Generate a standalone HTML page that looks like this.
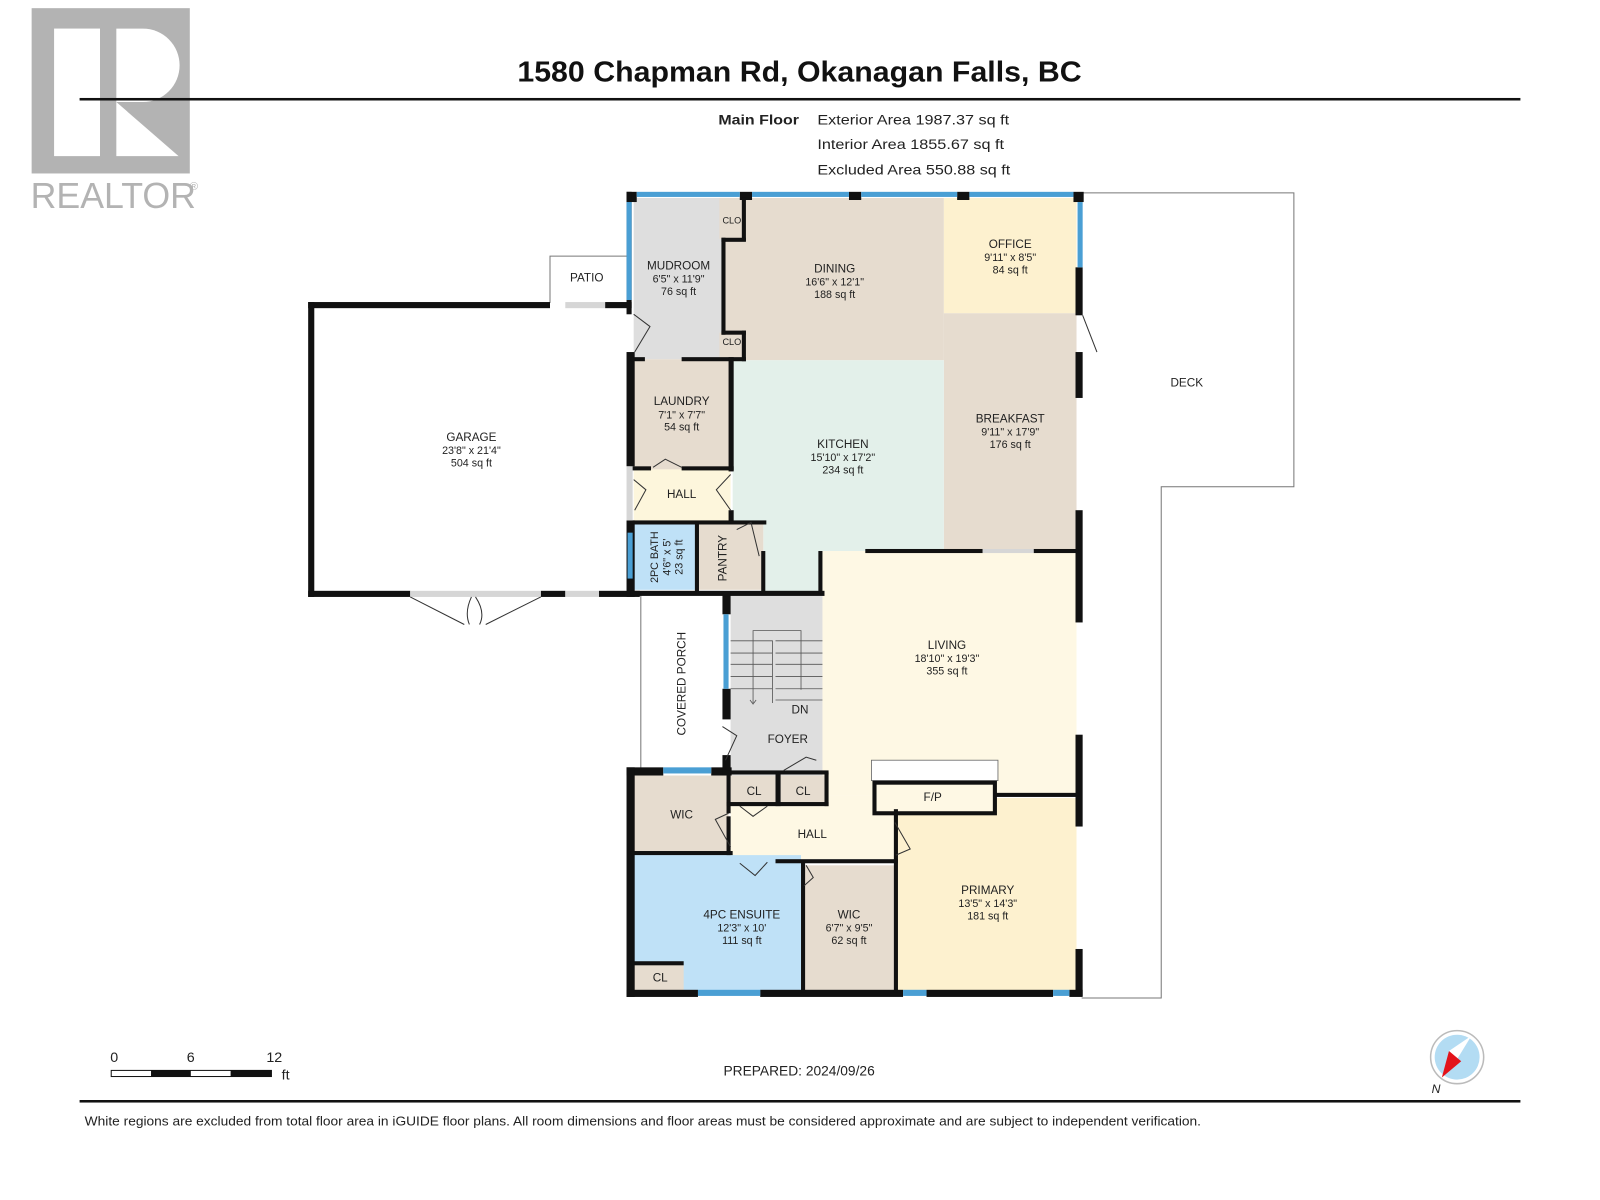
<!DOCTYPE html>
<html><head><meta charset="utf-8"><style>
html,body{margin:0;padding:0;background:#fff;}
svg{display:block;}
text{font-family:"Liberation Sans",Arial,sans-serif;fill:#222;}
.r{font-size:11.5px;text-anchor:middle;}
.d{font-size:10.5px;text-anchor:middle;}
</style></head><body>
<svg width="1600" height="1200" viewBox="0 0 1568 1176" preserveAspectRatio="none" xmlns="http://www.w3.org/2000/svg">
<!-- REALTOR logo -->
<rect x="31" y="8" width="155" height="162" fill="#b3b3b3"/>
<rect x="53" y="28" width="45" height="125" fill="#fff"/>
<path d="M114 28 H140 A36 36 0 0 1 140 100 H114 Z" fill="#fff"/>
<path d="M114 100 L114 153 L175 153 Z" fill="#fff"/>
<text x="30" y="204" style="font-size:35px;fill:#b3b3b3;">REALTOR</text>
<text x="186" y="186" style="font-size:11px;fill:#b3b3b3">®</text>
<!-- title -->
<text x="507" y="80" textLength="553" lengthAdjust="spacingAndGlyphs" style="font-size:28px;font-weight:bold;fill:#111">1580 Chapman Rd, Okanagan Falls, BC</text>
<rect x="78" y="96" width="1412" height="2.5" fill="#111"/>
<text x="704" y="122" textLength="79" lengthAdjust="spacingAndGlyphs" style="font-size:14px;font-weight:bold">Main Floor</text>
<text x="801" y="122" textLength="188" lengthAdjust="spacingAndGlyphs" style="font-size:14px">Exterior Area 1987.37 sq ft</text>
<text x="801" y="146" textLength="183" lengthAdjust="spacingAndGlyphs" style="font-size:14px">Interior Area 1855.67 sq ft</text>
<text x="801" y="171" textLength="189" lengthAdjust="spacingAndGlyphs" style="font-size:14px">Excluded Area 550.88 sq ft</text>

<!-- exterior white outlines -->
<path d="M1060 189 H1268 V477 H1138 V978 H1060" fill="none" stroke="#777" stroke-width="1"/>
<path d="M539 297 V251 H617" fill="none" stroke="#777" stroke-width="1"/>
<line x1="628" y1="583" x2="628" y2="755" stroke="#777" stroke-width="1"/>
<text class="r" x="575" y="276">PATIO</text>
<text class="r" x="1163" y="379">DECK</text>
<text class="r" transform="translate(672,670) rotate(-90)">COVERED PORCH</text>

<!-- room fills -->
<rect x="621" y="194" width="95" height="158" fill="#dedede"/>
<rect x="705" y="194" width="25" height="40" fill="#e6dccf"/>
<rect x="705" y="326" width="25" height="26" fill="#e6dccf"/>
<path d="M730 194 H925 V353 H730 V326 H710 V234 H730 Z" fill="#e6dccf"/>
<rect x="925" y="194" width="130" height="113" fill="#fdf1cf"/>
<rect x="925" y="307" width="130" height="233" fill="#e6dccf"/>
<path d="M718 353 H925 V540 H806 V580 H748 V512 H718 Z" fill="#e3f0ea"/>
<rect x="621" y="352" width="95" height="108" fill="#e6dccf"/>
<rect x="621" y="460" width="95" height="52" fill="#fdf6dc"/>
<rect x="621" y="512" width="62" height="66" fill="#bfe1f7"/>
<rect x="685" y="512" width="63" height="66" fill="#e6dccf"/>
<rect x="806" y="540" width="249" height="240" fill="#fef8e4"/>
<rect x="716" y="582" width="90" height="178" fill="#dedede"/>
<path d="M806 760 V780 H878 V842 H716 V790 H810 V760 Z" fill="#fef8e4"/>
<rect x="716" y="760" width="46" height="30" fill="#e6dccf"/>
<rect x="765" y="760" width="45" height="30" fill="#e6dccf"/>
<rect x="621" y="760" width="93" height="75" fill="#e6dccf"/>
<rect x="621" y="838" width="164" height="134" fill="#bfe1f7"/>
<rect x="621" y="945" width="49" height="27" fill="#e6dccf"/>
<rect x="788" y="848" width="89" height="124" fill="#e6dccf"/>
<rect x="878" y="782" width="177" height="190" fill="#fdf1cf"/>

<!-- stairs -->
<g stroke="#555" stroke-width="0.8" fill="none">
<path d="M716 628 H757 V689 M760 640 H806 M716 640 H757 M716 651 H757 M716 663 H757 M716 675 H757 M760 651 H806 M760 663 H806 M760 675 H806 M760 686 H806 M760 628 H806"/>
<path d="M738 689 V618 H785 V676"/>
<path d="M735 686 L738 690 L741 686"/>
</g>
<text class="r" x="784" y="699">DN</text>
<text class="r" x="772" y="728">FOYER</text>

<!-- fireplace -->
<rect x="854" y="745" width="124" height="20" fill="#fff" stroke="#666" stroke-width="0.8"/>
<rect x="857" y="767" width="118" height="30" fill="#fef8e4" stroke="#111" stroke-width="4"/>
<text class="r" x="914" y="785">F/P</text>

<!-- walls -->
<g fill="#111">
<rect x="302" y="296" width="237" height="6"/>
<rect x="593" y="296" width="26" height="6"/>
<rect x="302" y="296" width="6" height="289"/>
<rect x="302" y="579" width="100" height="6"/>
<rect x="530" y="579" width="24" height="6"/>
<rect x="587" y="579" width="40" height="6"/>
<rect x="614" y="188" width="10" height="10"/>
<rect x="725" y="188" width="12" height="8"/>
<rect x="832" y="188" width="12" height="8"/>
<rect x="938" y="188" width="12" height="8"/>
<rect x="1052" y="188" width="10" height="10"/>
<rect x="614" y="188" width="5" height="120"/>
<rect x="614" y="345" width="8" height="112"/>
<rect x="614" y="510" width="8" height="75"/>
<rect x="1054" y="262" width="7" height="47"/>
<rect x="1054" y="345" width="7" height="45"/>
<rect x="1054" y="500" width="7" height="110"/>
<rect x="1054" y="720" width="7" height="90"/>
<rect x="1054" y="930" width="7" height="46"/>
<rect x="614" y="752" width="36" height="8"/>
<rect x="697" y="752" width="20" height="8"/>
<rect x="614" y="752" width="8" height="225"/>
<rect x="614" y="970" width="70" height="7"/>
<rect x="745" y="970" width="140" height="7"/>
<rect x="908" y="970" width="124" height="7"/>
<rect x="1048" y="970" width="13" height="7"/>
<rect x="708" y="582" width="8" height="20"/>
<rect x="708" y="675" width="8" height="30"/>
<rect x="708" y="740" width="8" height="20"/>
<rect x="618" y="579" width="190" height="5"/>
<rect x="727" y="194" width="4" height="42"/>
<rect x="707" y="233" width="24" height="4"/>
<rect x="707" y="233" width="4" height="95"/>
<rect x="707" y="324" width="24" height="4"/>
<rect x="727" y="324" width="4" height="30"/>
<rect x="618" y="350" width="14" height="4"/>
<rect x="668" y="350" width="63" height="4"/>
<rect x="714" y="350" width="5" height="112"/>
<rect x="618" y="457" width="20" height="4"/>
<rect x="668" y="457" width="51" height="4"/>
<rect x="714" y="500" width="5" height="14"/>
<rect x="618" y="510" width="133" height="4"/>
<rect x="681" y="512" width="4" height="68"/>
<rect x="746" y="540" width="4" height="42"/>
<rect x="802" y="540" width="4" height="42"/>
<rect x="848" y="538" width="115" height="4"/>
<rect x="1013" y="538" width="44" height="4"/>
<rect x="712" y="755" width="100" height="4"/>
<rect x="712" y="755" width="4" height="42"/>
<rect x="808" y="757" width="4" height="33"/>
<rect x="760" y="757" width="5" height="33"/>
<rect x="712" y="786" width="100" height="4"/>
<rect x="975" y="777" width="82" height="4"/>
<rect x="876" y="793" width="4" height="180"/>
<rect x="618" y="834" width="100" height="4"/>
<rect x="712" y="800" width="4" height="38"/>
<rect x="760" y="842" width="120" height="4"/>
<rect x="785" y="845" width="4" height="128"/>
<rect x="618" y="942" width="52" height="4"/>
</g>
<!-- windows -->
<g fill="#4a9fd4">
<rect x="624" y="188" width="101" height="5"/>
<rect x="737" y="188" width="95" height="5"/>
<rect x="844" y="188" width="94" height="5"/>
<rect x="950" y="188" width="102" height="5"/>
<rect x="614" y="198" width="5" height="96"/>
<rect x="1056" y="198" width="5" height="64"/>
<rect x="615" y="522" width="5" height="45"/>
<rect x="709" y="602" width="5" height="73"/>
<rect x="650" y="752" width="47" height="6"/>
<rect x="684" y="970" width="61" height="6"/>
<rect x="885" y="970" width="23" height="6"/>
<rect x="1032" y="970" width="16" height="6"/>
</g>
<!-- door openings grey -->
<g fill="#d6d6d6">
<rect x="554" y="296" width="39" height="6"/>
<rect x="402" y="579" width="128" height="6"/>
<rect x="554" y="579" width="33" height="6"/>
<rect x="614" y="457" width="6" height="53"/>
<rect x="963" y="538" width="50" height="4"/>
</g>
<!-- door swings -->
<g fill="none" stroke="#333" stroke-width="1">
<path d="M402 585 L455 612 M530 585 L476 612 M460 612 Q455 600 462 585 M470 612 Q476 600 466 585"/>
<path d="M621 308 L637 320 L622 345"/>
<path d="M1061 309 L1075 345"/>
<path d="M621 470 L633 480 L622 500"/>
<path d="M716 465 L702 480 L716 500"/>
<path d="M640 458 L652 450 L668 458"/>
<path d="M722 519 L736 512 L744 545"/>
<path d="M708 712 L722 721 L711 745"/>
<path d="M800 745 L790 742 L768 755"/>
<path d="M714 797 L701 803 L716 830"/>
<path d="M725 790 L738 800 L752 790"/>
<path d="M877 806 L892 832 L878 838"/>
<path d="M725 846 L740 858 L752 845"/>
<path d="M790 848 L797 860 L788 868"/>
</g>

<!-- labels -->
<text class="r" x="665" y="264">MUDROOM</text><text class="d" x="665" y="277">6'5" x 11'9"</text><text class="d" x="665" y="289">76 sq ft</text>
<text style="font-size:9px" x="708" y="219">CLO</text><text style="font-size:9px" x="708" y="338">CLO</text>
<text class="r" x="818" y="267">DINING</text><text class="d" x="818" y="280">16'6" x 12'1"</text><text class="d" x="818" y="292">188 sq ft</text>
<text class="r" x="990" y="243">OFFICE</text><text class="d" x="990" y="256">9'11" x 8'5"</text><text class="d" x="990" y="268">84 sq ft</text>
<text class="r" x="990" y="414">BREAKFAST</text><text class="d" x="990" y="427">9'11" x 17'9"</text><text class="d" x="990" y="439">176 sq ft</text>
<text class="r" x="826" y="439">KITCHEN</text><text class="d" x="826" y="452">15'10" x 17'2"</text><text class="d" x="826" y="464">234 sq ft</text>
<text class="r" x="668" y="397">LAUNDRY</text><text class="d" x="668" y="410">7'1" x 7'7"</text><text class="d" x="668" y="422">54 sq ft</text>
<text class="r" x="668" y="488">HALL</text>
<text class="r" x="462" y="432">GARAGE</text><text class="d" x="462" y="445">23'8" x 21'4"</text><text class="d" x="462" y="457">504 sq ft</text>
<text class="d" transform="translate(645,546) rotate(-90)">2PC BATH</text>
<text class="d" transform="translate(657,546) rotate(-90)">4'6" x 5'</text>
<text class="d" transform="translate(669,546) rotate(-90)">23 sq ft</text>
<text class="r" transform="translate(712,547) rotate(-90)">PANTRY</text>
<text class="r" x="928" y="636">LIVING</text><text class="d" x="928" y="649">18'10" x 19'3"</text><text class="d" x="928" y="661">355 sq ft</text>
<text class="r" x="739" y="779">CL</text><text class="r" x="787" y="779">CL</text>
<text class="r" x="668" y="802">WIC</text>
<text class="r" x="796" y="821">HALL</text>
<text class="r" x="727" y="900">4PC ENSUITE</text><text class="d" x="727" y="913">12'3" x 10'</text><text class="d" x="727" y="925">111 sq ft</text>
<text class="r" x="647" y="962">CL</text>
<text class="r" x="832" y="900">WIC</text><text class="d" x="832" y="913">6'7" x 9'5"</text><text class="d" x="832" y="925">62 sq ft</text>
<text class="r" x="968" y="876">PRIMARY</text><text class="d" x="968" y="889">13'5" x 14'3"</text><text class="d" x="968" y="901">181 sq ft</text>

<!-- scale bar -->
<text x="108" y="1041" style="font-size:14px">0</text>
<text x="183" y="1041" style="font-size:14px">6</text>
<text x="261" y="1041" style="font-size:14px">12</text>
<text x="276" y="1058" style="font-size:14px">ft</text>
<rect x="109" y="1049" width="157" height="6" fill="#fff" stroke="#111" stroke-width="1"/>
<rect x="148" y="1049" width="39" height="6" fill="#111"/>
<rect x="226" y="1049" width="40" height="6" fill="#111"/>
<text x="709" y="1054" style="font-size:13.5px">PREPARED: 2024/09/26</text>
<!-- compass -->
<circle cx="1428" cy="1036" r="26" fill="#fff" stroke="#bbb" stroke-width="1.5"/>
<circle cx="1428" cy="1036" r="22" fill="#b3dcf3"/>
<path d="M1442 1015 L1428 1038 L1420 1030 Z" fill="#fff"/>
<path d="M1420 1030 L1432 1040 L1413 1056 Z" fill="#e3141b"/>
<text x="1403" y="1071" style="font-size:12px;font-style:italic">N</text>
<rect x="78" y="1078" width="1412" height="2.5" fill="#111"/>
<text x="83" y="1103" textLength="1094" lengthAdjust="spacingAndGlyphs" style="font-size:12.5px">White regions are excluded from total floor area in iGUIDE floor plans. All room dimensions and floor areas must be considered approximate and are subject to independent verification.</text>
</svg>
</body></html>
